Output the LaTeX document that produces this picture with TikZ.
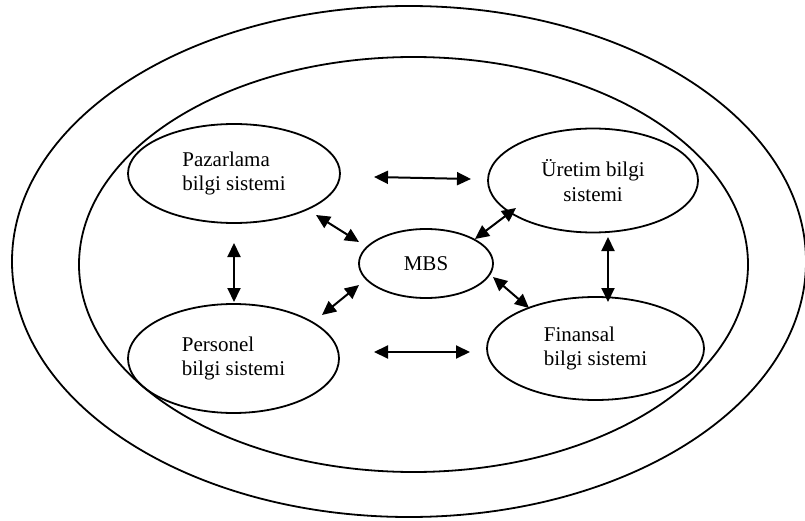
\documentclass[tikz,border=0pt]{standalone}
\usepackage{fontspec}
\setmainfont{Liberation Serif}
\usetikzlibrary{arrows.meta,shapes.geometric}
\tikzset{%
    elp/.style={ellipse, draw, line width=1.8pt, inner sep=0pt, font=\fontsize{21}{24.5}\selectfont},
    ring/.style={line width=1.8pt},
    dar/.style={line width=2pt, {Triangle[length=14pt,width=13pt]}-{Triangle[length=14pt,width=13pt]}},
}
\begin{document}
\begin{tikzpicture}[x=1pt,y=-1pt]
    \useasboundingbox (0,0) rectangle (805,521);
    \draw [ring] (409,261.5) ellipse [x radius=397, y radius=255.5];
    \draw [ring] (413.5,264.5) ellipse [x radius=334.5, y radius=207.5];
    \node [elp, minimum width=212pt, minimum height=99pt, align=left] (paz) at (234,173.5) {Pazarlama\\bilgi sistemi};
    \node [elp, minimum width=210pt, minimum height=104pt, align=center] (ure) at (593,180.5) {\"Uretim bilgi\\sistemi};
    \node [elp, minimum width=134pt, minimum height=69pt] (mbs) at (426,263.5) {MBS};
    \node [elp, minimum width=211pt, minimum height=109pt, align=left] (per) at (233.5,358.5) {Personel\\bilgi sistemi};
    \node [elp, minimum width=217pt, minimum height=103pt, align=left] (fin) at (595.5,348.5) {Finansal\\bilgi sistemi};
    % arrow ends
    \coordinate (pu1) at (374,177);   \coordinate (pu2) at (471,179);
    \coordinate (pf1) at (374,352);   \coordinate (pf2) at (470,352);
    \coordinate (pp1) at (234,243);   \coordinate (pp2) at (234,302);
    \coordinate (uf1) at (608,237);   \coordinate (uf2) at (608,302);
    \coordinate (pm1) at (316,215);   \coordinate (pm2) at (359,242);
    \coordinate (um1) at (475,239);   \coordinate (um2) at (516,208);
    \coordinate (qm1) at (322,315);   \coordinate (qm2) at (359,285);
    \coordinate (mf1) at (493,277);   \coordinate (mf2) at (529,308);
    \draw [dar] (pu1)--(pu2);
    \draw [dar] (pf1)--(pf2);
    \draw [dar] (pp1)--(pp2);
    \draw [dar] (uf1)--(uf2);
    \draw [dar] (pm1)--(pm2);
    \draw [dar] (um1)--(um2);
    \draw [dar] (qm1)--(qm2);
    \draw [dar] (mf1)--(mf2);
\end{tikzpicture}
\end{document}
